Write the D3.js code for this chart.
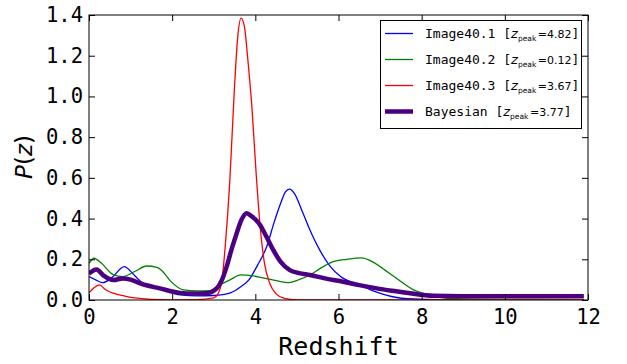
<!DOCTYPE html>
<html><head><meta charset="utf-8">
<script src="https://cdn.jsdelivr.net/npm/d3@7"></script>
<style>body{margin:0;background:#fff}svg{display:block}</style>
</head><body>
<svg id="c" width="627" height="364"></svg>
<script>
// ---- data ----
const seriesNames = ["Image40.1", "Image40.2", "Image40.3", "Bayesian"];
const zPeaks = ["4.82", "0.12", "3.67", "3.77"];
const xTicks = [0, 2, 4, 6, 8, 10, 12];
const yTicks = [0.0, 0.2, 0.4, 0.6, 0.8, 1.0, 1.2, 1.4];

const zBlue = [0, 0.15, 0.33, 0.55, 0.85, 1.05, 1.25, 1.7, 2.2, 2.6, 3.0, 3.4, 3.65, 3.85, 4.05, 4.27, 4.45, 4.6, 4.72, 4.82, 4.95, 5.1, 5.3, 5.55, 5.8, 6.05, 6.5, 6.9, 7.3, 7.8, 8.5, 10, 11.9];
const pBlue = [0.115, 0.1, 0.085, 0.11, 0.164, 0.13, 0.09, 0.057, 0.025, 0.02, 0.022, 0.035, 0.065, 0.1, 0.17, 0.26, 0.38, 0.47, 0.53, 0.545, 0.52, 0.45, 0.35, 0.245, 0.165, 0.115, 0.075, 0.04, 0.016, 0.005, 0.002, 0.001, 0.001];

const zGreen = [0, 0.12, 0.3, 0.58, 0.82, 1.1, 1.39, 1.63, 1.75, 1.95, 2.27, 2.6, 2.91, 3.15, 3.4, 3.65, 3.9, 4.15, 4.5, 4.8, 5.05, 5.31, 5.6, 5.87, 6.2, 6.55, 6.8, 7.0, 7.3, 7.56, 7.8, 8.04, 8.3, 8.52, 9, 10, 11.9];
const pGreen = [0.18, 0.205, 0.18, 0.125, 0.115, 0.14, 0.167, 0.16, 0.145, 0.095, 0.05, 0.045, 0.046, 0.074, 0.1, 0.123, 0.12, 0.11, 0.095, 0.085, 0.1, 0.123, 0.16, 0.188, 0.2, 0.207, 0.19, 0.164, 0.12, 0.082, 0.05, 0.033, 0.018, 0.011, 0.005, 0.003, 0.002];

const zRed = [0, 0.12, 0.25, 0.4, 0.6, 0.85, 1.1, 1.5, 2.0, 2.6, 3.0, 3.1, 3.2, 3.27, 3.39, 3.5, 3.58, 3.66, 3.74, 3.82, 3.92, 4.02, 4.12, 4.22, 4.35, 4.5, 4.7, 5.0, 6, 8, 10, 11.9];
const pRed = [0.035, 0.06, 0.074, 0.05, 0.032, 0.02, 0.01, 0.003, 0.001, 0.002, 0.01, 0.03, 0.1, 0.25, 0.6, 1.05, 1.3, 1.385, 1.34, 1.18, 0.94, 0.62, 0.35, 0.18, 0.08, 0.03, 0.008, 0.001, 0, 0, 0, 0];

const zBayes = [0, 0.18, 0.35, 0.58, 0.82, 1.0, 1.23, 1.7, 2.19, 2.5, 2.83, 3.07, 3.2, 3.31, 3.43, 3.55, 3.67, 3.79, 3.92, 4.11, 4.27, 4.43, 4.6, 4.83, 5.05, 5.31, 5.7, 6.11, 6.5, 6.92, 7.3, 7.72, 8.28, 9, 10, 11.9];
const pBayes = [0.13, 0.15, 0.12, 0.098, 0.106, 0.1, 0.082, 0.057, 0.035, 0.032, 0.033, 0.057, 0.1, 0.164, 0.25, 0.327, 0.395, 0.426, 0.41, 0.37, 0.31, 0.246, 0.19, 0.147, 0.132, 0.123, 0.105, 0.09, 0.073, 0.057, 0.045, 0.033, 0.021, 0.019, 0.019, 0.019];

const series = [
  {name: seriesNames[0], peak: zPeaks[0], z: zBlue, p: pBlue, color: "#0000ff", w: 1.3},
  {name: seriesNames[1], peak: zPeaks[1], z: zGreen, p: pGreen, color: "#008000", w: 1.3},
  {name: seriesNames[2], peak: zPeaks[2], z: zRed, p: pRed, color: "#ff0000", w: 1.3},
  {name: seriesNames[3], peak: zPeaks[3], z: zBayes, p: pBayes, color: "#4b0082", w: 4.5}
];

// ---- layout ----
const L = 89, R = 588, T = 15, B = 300;
const svg = d3.select("#c");
const x = d3.scaleLinear().domain([0, 12]).range([L, R]);
const y = d3.scaleLinear().domain([0, 1.4]).range([B, T]);
const mono = "'DejaVu Sans Mono', monospace";
const sans = "'DejaVu Sans', sans-serif";

svg.append("defs").append("clipPath").attr("id", "clip")
  .append("rect").attr("x", L).attr("y", T).attr("width", R - L).attr("height", B - T);

const line = d3.line().x(d => x(d[0])).y(d => y(d[1])).curve(d3.curveMonotoneX);
const g = svg.append("g").attr("clip-path", "url(#clip)");
series.forEach(s => {
  g.append("path").datum(s.z.map((z, i) => [z, s.p[i]]))
    .attr("d", line).attr("fill", "none").attr("stroke", s.color)
    .attr("stroke-width", s.w).attr("stroke-linejoin", "round").attr("stroke-linecap", "butt");
});

// axes (ticks inside, on all four sides)
const tl = 6;
const axB = svg.append("g").attr("transform", `translate(0,${B})`)
  .call(d3.axisBottom(x).tickValues(xTicks).tickSize(-tl).tickPadding(9).tickFormat(d3.format("d")));
const axT = svg.append("g").attr("transform", `translate(0,${T})`)
  .call(d3.axisTop(x).tickValues(xTicks).tickSize(-tl).tickFormat(""));
const axL = svg.append("g").attr("transform", `translate(${L},0)`)
  .call(d3.axisLeft(y).tickValues(yTicks).tickSize(-tl).tickPadding(6).tickFormat(d3.format(".1f")));
const axR = svg.append("g").attr("transform", `translate(${R},0)`)
  .call(d3.axisRight(y).tickValues(yTicks).tickSize(-tl).tickFormat(""));
[axB, axT, axL, axR].forEach(a => {
  a.select(".domain").remove();
  a.selectAll("line").attr("stroke", "#000").attr("stroke-width", 1);
  a.selectAll("text").attr("font-family", mono).attr("font-size", 20.5).attr("fill", "#000");
});
axB.selectAll("text").attr("dy", "0.71em");
svg.append("rect").attr("x", L).attr("y", T).attr("width", R - L).attr("height", B - T)
  .attr("fill", "none").attr("stroke", "#000").attr("stroke-width", 1);

// axis labels
svg.append("text").attr("x", (L + R) / 2).attr("y", 355).attr("text-anchor", "middle")
  .attr("font-family", mono).attr("font-size", 25).text("Redshift");
const yl = svg.append("text").attr("transform", "translate(32,157) rotate(-90)")
  .attr("text-anchor", "middle").attr("font-family", sans).attr("font-size", 23);
yl.append("tspan").attr("font-style", "italic").text("P");
yl.append("tspan").text("(");
yl.append("tspan").attr("font-style", "italic").text("z");
yl.append("tspan").text(")");

// legend
const lg = svg.append("g");
lg.append("rect").attr("x", 380.5).attr("y", 20.5).attr("width", 201).attr("height", 108)
  .attr("fill", "#fff").attr("stroke", "#000").attr("stroke-width", 1);
series.forEach((s, i) => {
  const yy = 33.5 + i * 26;
  lg.append("line").attr("x1", 385).attr("x2", 413).attr("y1", yy).attr("y2", yy)
    .attr("stroke", s.color).attr("stroke-width", s.w);
  const t = lg.append("text").attr("x", 425).attr("y", yy + 4.5).attr("font-size", 13).attr("font-family", mono);
  t.append("tspan").text(s.name + " [");
  t.append("tspan").attr("font-family", sans).attr("font-style", "italic").attr("font-size", 13).text("z");
  t.append("tspan").attr("font-family", sans).attr("font-size", 7.5).attr("dy", 2.5).text("peak");
  t.append("tspan").attr("font-family", sans).attr("font-size", 11).attr("dy", -2.5).attr("dx", 1.5).text("=" + s.peak);
  t.append("tspan").text("]");
});
</script>
</body></html>
